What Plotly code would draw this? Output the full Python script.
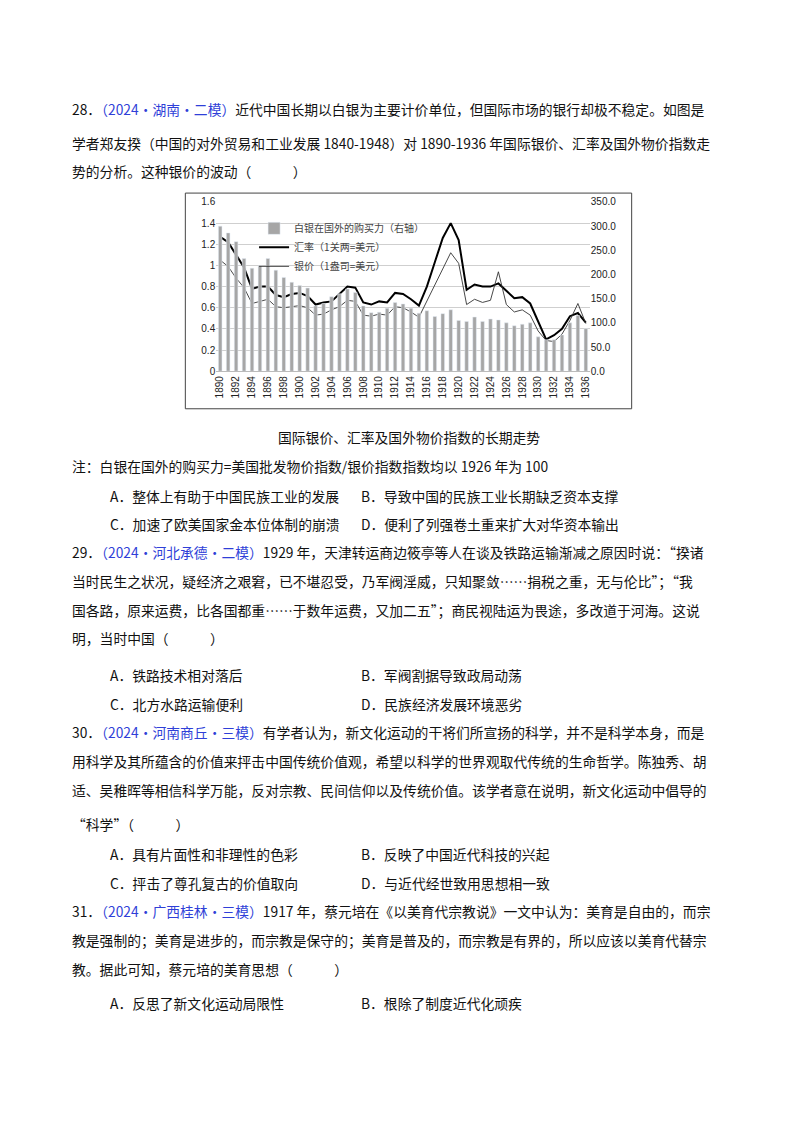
import plotly.graph_objects as go

years = list(range(1890, 1937))
purchasing_power = [300, 286, 268, 233, 213, 218, 233, 209, 194, 184, 177, 172, 135, 140, 154, 160,
                    170, 163, 135, 121, 122, 130, 142, 139, 130, 120, 125, 113, 119, 127, 105, 103,
                    112, 103, 108, 106, 100, 94, 97, 100, 71, 65, 65, 75, 100, 115, 88]
exchange_rate = [1.27, 1.22, 1.10, 0.98, 0.78, 0.80, 0.80, 0.72, 0.70, 0.73, 0.74, 0.71, 0.63, 0.65,
                 0.66, 0.73, 0.80, 0.79, 0.65, 0.63, 0.66, 0.65, 0.74, 0.73, 0.68, 0.62, 0.80, 1.03,
                 1.26, 1.40, 1.24, 0.77, 0.82, 0.80, 0.80, 0.83, 0.76, 0.69, 0.70, 0.64, 0.47, 0.30,
                 0.34, 0.40, 0.52, 0.55, 0.46]
silver_price = [1.05, 0.99, 0.88, 0.79, 0.64, 0.66, 0.68, 0.61, 0.60, 0.61, 0.62, 0.60, 0.53, 0.54,
                0.58, 0.61, 0.67, 0.66, 0.53, 0.52, 0.54, 0.53, 0.61, 0.60, 0.56, 0.51, 0.66, 0.82,
                0.97, 1.12, 1.02, 0.63, 0.68, 0.65, 0.67, 0.94, 0.63, 0.56, 0.58, 0.53, 0.38, 0.29,
                0.28, 0.35, 0.48, 0.64, 0.45]
left_ticks = [0, 0.2, 0.4, 0.6, 0.8, 1, 1.2, 1.4, 1.6]
right_ticks = [0, 50, 100, 150, 200, 250, 300, 350]

W, H = 800, 1132
D = 9  # vertical correction
F = "Noto Sans CJK SC"
fig = go.Figure()
fig.add_trace(go.Bar(x=years, y=purchasing_power, name="白银在国外的购买力（右轴）",
                     marker_color="#a6a6a6", width=0.45, yaxis="y2"))
fig.add_trace(go.Scatter(x=years, y=exchange_rate, name="汇率（1关两=美元）", mode="lines",
                         line=dict(color="black", width=2)))
fig.add_trace(go.Scatter(x=years, y=silver_price, name="银价（1盎司=美元）", mode="lines",
                         line=dict(color="#333", width=0.9)))

fig.update_layout(
    width=W, height=H, margin=dict(l=0, r=0, t=0, b=0),
    paper_bgcolor="white", plot_bgcolor="white", barmode="overlay",
    font=dict(family=F, color="#222"),
    xaxis=dict(domain=[207/W, 582/W], anchor="y", range=[1889.5, 1936.5],
               tickvals=years[::2], ticktext=[str(y) for y in years[::2]],
               tickangle=-90, tickfont=dict(size=10, family="Liberation Sans"), showgrid=False,
               showline=True, linecolor="#bbb", ticks=""),
    yaxis=dict(domain=[1-(370-D)/H, 1-(199-D)/H], range=[0, 1.6], tickvals=left_ticks,
               ticktext=[str(t) for t in left_ticks], tickfont=dict(size=10, family="Liberation Sans"),
               showgrid=True, gridcolor="#cfcfcf", zeroline=False),
    yaxis2=dict(overlaying="y", side="right", range=[0, 350], tickvals=right_ticks,
                ticktext=[f"{t:.1f}" for t in right_ticks], tickfont=dict(size=10, family="Liberation Sans"),
                showgrid=False, zeroline=False),
    legend=dict(x=245/W, y=1-(211-D)/H, xanchor="left", yanchor="top", bgcolor="rgba(255,255,255,0)",
                font=dict(size=10, color="#444"), tracegroupgap=0, itemwidth=30),
    showlegend=True,
)
fig.add_shape(type="rect", xref="paper", yref="paper", x0=176/W, x1=624/W,
              y0=1-(408-D)/H, y1=1-(190-D)/H, line=dict(color="#444", width=1))

B = "<span style='color:#2f3fd8'>{}</span>"
lines = [
    (60, 105, "28．" + B.format("（2024•湖南•二模）") + "近代中国长期以白银为主要计价单位，但国际市场的银行却极不稳定。如图是"),
    (60, 139, "学者郑友揆（中国的对外贸易和工业发展 1840-1948）对 1890-1936 年国际银价、汇率及国外物价指数走"),
    (60, 168, "势的分析。这种银价的波动（　　　）"),
    (60, 466, "注：白银在国外的购买力=美国批发物价指数/银价指数指数均以 1926 年为 100"),
    (98, 496, "A．整体上有助于中国民族工业的发展"), (350, 496, "B．导致中国的民族工业长期缺乏资本支撑"),
    (98, 524, "C．加速了欧美国家金本位体制的崩溃"), (350, 524, "D．便利了列强卷土重来扩大对华资本输出"),
    (60, 553, "29．" + B.format("（2024•河北承德•二模）") + "1929 年，天津转运商边筱亭等人在谈及铁路运输渐减之原因时说：“揆诸"),
    (60, 582, "当时民生之状况，疑经济之艰窘，已不堪忍受，乃军阀淫威，只知聚敛……捐税之重，无与伦比”；“我"),
    (60, 611, "国各路，原来运费，比各国都重……于数年运费，又加二五”；商民视陆运为畏途，多改道于河海。这说"),
    (60, 640, "明，当时中国（　　　）"),
    (98, 677, "A．铁路技术相对落后"), (350, 677, "B．军阀割据导致政局动荡"),
    (98, 706, "C．北方水路运输便利"), (350, 706, "D．民族经济发展环境恶劣"),
    (60, 735, "30．" + B.format("（2024•河南商丘•三模）") + "有学者认为，新文化运动的干将们所宣扬的科学，并不是科学本身，而是"),
    (60, 764, "用科学及其所蕴含的价值来抨击中国传统价值观，希望以科学的世界观取代传统的生命哲学。陈独秀、胡"),
    (60, 793, "适、吴稚晖等相信科学万能，反对宗教、民间信仰以及传统价值。该学者意在说明，新文化运动中倡导的"),
    (60, 828, "“科学”（　　　）"),
    (98, 858, "A．具有片面性和非理性的色彩"), (350, 858, "B．反映了中国近代科技的兴起"),
    (98, 887, "C．抨击了尊孔复古的价值取向"), (350, 887, "D．与近代经世致用思想相一致"),
    (60, 916, "31．" + B.format("（2024•广西桂林•三模）") + "1917 年，蔡元培在《以美育代宗教说》一文中认为：美育是自由的，而宗"),
    (60, 945, "教是强制的；美育是进步的，而宗教是保守的；美育是普及的，而宗教是有界的，所以应该以美育代替宗"),
    (60, 974, "教。据此可知，蔡元培的美育思想（　　　）"),
    (98, 1009, "A．反思了新文化运动局限性"), (350, 1009, "B．根除了制度近代化顽疾"),
]
for x, y, t in lines:
    fig.add_annotation(x=x/W, y=1-(y-D)/H, xref="paper", yref="paper", xanchor="left", yanchor="middle",
                       text=t, showarrow=False, font=dict(size=13.8, family=F, color="#111"))
fig.add_annotation(x=0.5, y=1-(437-D)/H, xref="paper", yref="paper", xanchor="center", yanchor="middle",
                   text="国际银价、汇率及国外物价指数的长期走势", showarrow=False,
                   font=dict(size=13.8, family=F, color="#111"))
fig.write_html("out.html")
